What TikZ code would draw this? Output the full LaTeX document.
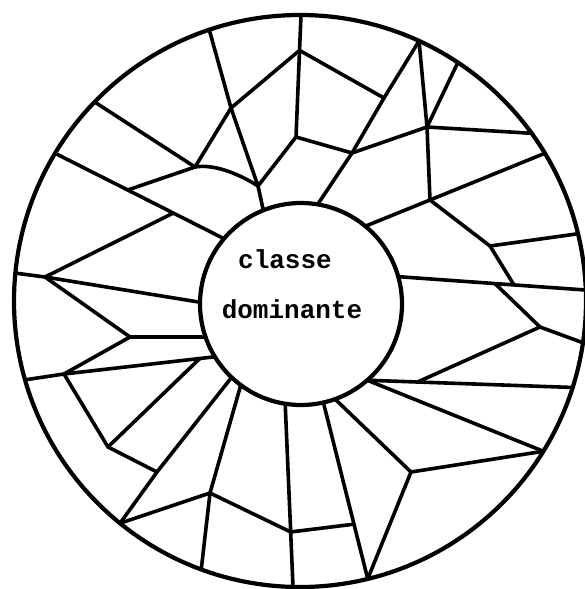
\documentclass[tikz,border=0pt]{standalone}
\usepackage{fontspec}
\newfontfamily\monofont{Liberation Mono}
\usetikzlibrary{calc}
\begin{document}
\begin{tikzpicture}[x=1pt,y=-1pt,
  edge/.style={draw=black,line width=3.6pt,line cap=round,line join=round},
  ring/.style={draw=black,line width=4.2pt},
  lbl/.style={font=\monofont\bfseries\fontsize{26}{26}\selectfont,inner sep=0pt,anchor=base}]
\useasboundingbox (0,0) rectangle (585,589);
\fill[white] (0,0) rectangle (585,589);
\coordinate (O) at (300,301);
\coordinate (C0) at (301,304);
% outer circle points
\foreach \n/\a in {o1/251.5,o2/224.1,o3/211.1,o4/185.6,o5/164,o6/129,o7/110.2,o8/91.4,o9/76.3,o10/31.7,o11/17.6,o12/8.4,o13/-2.2,o14/-13.6,o15/-31.1,o16/-35.9,o17/-56.5,o18/-65.4,o19/-89.8}
  \coordinate (\n) at ($(O)+(\a:286)$);
% inner circle points
\foreach \n/\a in {i15/248.1,i2/220.3,i3/181,i4/160.9,i5/148.5,i6/133.4,i7/126.6,i8/99,i9/77.2,i10/70.3,i11/49,i12/-15.7,i13/-50.4,i14/-80.5}
  \coordinate (\n) at ($(C0)+(\a:101)$);
% interior vertices
\coordinate (A) at (231,108);
\coordinate (V) at ($(o19)!0.29!(296,137)$);
\coordinate (P) at (296,137);
\coordinate (B) at (258,186);
\coordinate (C) at (195,167);
\coordinate (D) at ($(o3)!0.43!(i2)$);
\coordinate (X) at ($(o3)!0.70!(i2)$);
\coordinate (Q) at (384,98);
\coordinate (R) at (352,153);
\coordinate (S) at (427,127);
\coordinate (T) at (430,200);
\coordinate (U) at (490,246);
\coordinate (E) at (45,277);
\coordinate (F) at (130,337);
\coordinate (G) at (64,374);
\coordinate (H) at (108,447);
\coordinate (Y) at ($(G)!0.9!(i5)$);
\coordinate (I) at (157,472);
\coordinate (J) at (210,493);
\coordinate (K) at ($(i8)!0.70!(o8)$);
\coordinate (L) at ($(i9)!0.69!(o9)$);
\coordinate (M) at (411,472);
\coordinate (N) at (540,327);
\coordinate (Z) at ($(i11)!0.245!(o11)$);
\coordinate (W1) at ($(i12)!0.617!(o13)$);
\coordinate (W2) at ($(i12)!0.516!(o13)$);
% circles
\draw[ring] (O) circle[radius=286];
\draw[ring] (C0) circle[radius=101];
% top-left
\draw[edge] (o1) -- (A);
\draw[edge] (A) -- (V);
\draw[edge] (o19) -- (V) -- (P);
\draw[edge] (V) -- (Q);
\draw[edge] (o18) -- (Q) -- (R) -- (i14);
\draw[edge] (o18) -- (S);
\draw[edge] (o17) -- (S);
\draw[edge] (S) -- (o16);
\draw[edge] (R) -- (S);
\draw[edge] (P) -- (R);
\draw[edge] (P) -- (B);
\draw[edge] (A) -- (B);
\draw[edge] (A) -- (C);
\draw[edge] (B) -- (i15);
\draw[edge] (C) .. controls (212,164) and (236,172) .. (B);
\draw[edge] (D) -- (C);
\draw[edge] (o2) -- (C);
\draw[edge] (o3) -- (D) -- (X) -- (i2);
% left
\draw[edge] (X) -- (E);
\draw[edge] (E) -- (o4);
\draw[edge] (E) -- (i3);
\draw[edge] (E) -- (F);
\draw[edge] (F) -- (i4);
\draw[edge] (F) -- (G);
\draw[edge] (G) -- (o5);
\draw[edge] (G) -- (i5);
\draw[edge] (G) -- (H);
\draw[edge] (H) -- (Y);
\draw[edge] (H) -- (I);
\draw[edge] (I) -- (i6);
\draw[edge] (I) -- (o6);
% bottom
\draw[edge] (o6) -- (J);
\draw[edge] (J) -- (i7);
\draw[edge] (J) -- (o7);
\draw[edge] (J) -- (K);
\draw[edge] (i8) -- (K) -- (o8);
\draw[edge] (K) -- (L);
\draw[edge] (i9) -- (L) -- (o9);
\draw[edge] (i10) -- (M);
\draw[edge] (M) -- (o9);
\draw[edge] (M) -- (o10);
% right
\draw[edge] (i11) -- (o10);
\draw[edge] (i11) -- (Z) -- (o11);
\draw[edge] (Z) -- (N);
\draw[edge] (N) -- (o12);
\draw[edge] (W2) -- (N);
\draw[edge] (i12) -- (W2) -- (W1) -- (o13);
\draw[edge] (U) -- (W1);
\draw[edge] (U) -- (o14);
\draw[edge] (T) -- (U);
\draw[edge] (S) -- (T);
\draw[edge] (T) -- (i13);
\draw[edge] (T) -- (o15);
% text
\node[lbl] (t1) at (285,268) {classe};
\node[lbl] (t2) at (292,318) {dominante};
\end{tikzpicture}
\end{document}
